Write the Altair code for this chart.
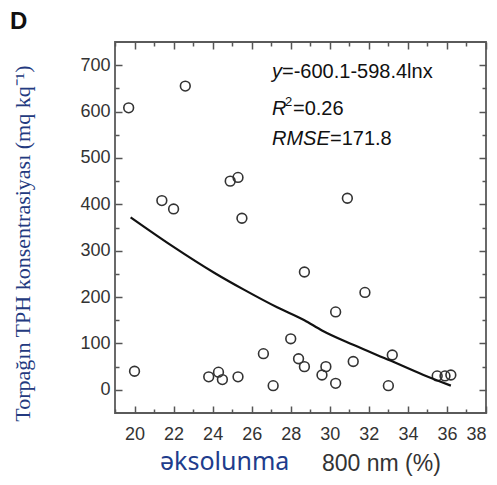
import altair as alt
import pandas as pd

# ---- data ----
x_vals = [19.7, 20.0, 21.4, 22.0, 22.6, 23.8, 24.3, 24.5, 24.9, 25.3, 25.3, 25.5,
          26.6, 27.1, 28.0, 28.4, 28.7, 28.7, 29.6, 29.8, 30.3, 30.3, 30.9, 31.2,
          31.8, 33.0, 33.2, 35.5, 35.9, 36.2]
y_vals = [608, 40, 408, 390, 655, 28, 38, 22, 450, 458, 28, 370,
          78, 9, 110, 67, 50, 254, 32, 50, 168, 14, 413, 61,
          210, 9, 75, 30, 30, 32]

curve_x = [19.8, 21.9, 24.1, 25.6, 27.3, 28.7, 29.6, 31.2, 33.1, 34.8, 36.2]
curve_y = [372, 311, 252, 216, 178, 150, 128, 97, 63, 32, 9]

x_major = [20, 22, 24, 26, 28, 30, 32, 34, 36, 38]
x_minor = [19, 21, 23, 25, 27, 29, 31, 33, 35, 37]
y_major = [0, 100, 200, 300, 400, 500, 600, 700]
y_minor = [50, 150, 250, 350, 450, 550, 650]
x_domain = [19, 38]
y_domain = [-50, 750]

panel_label = ["D"]
y_title = "Torpağın TPH konsentrasiyası (mq kq⁻¹)"
x_title_a = ["əksolunma"]
x_title_b = ["800 nm (%)"]
eq_italic = ["y"]
eq_rest = ["=-600.1-598.4lnx"]
r2_italic = ["R"]
r2_sup = ["2"]
r2_rest = ["=0.26"]
rmse_italic = ["RMSE"]
rmse_rest = ["=171.8"]

W = 371
H = 371
TICK = "#555555"
LABEL = "#333333"

pts = pd.DataFrame({"x": x_vals, "y": y_vals})
crv = pd.DataFrame({"x": curve_x, "y": curve_y})

xs = alt.Scale(domain=x_domain, nice=False, zero=False)
ys = alt.Scale(domain=y_domain, nice=False, zero=False)


def tick_axis(orient, values, size, off):
    return alt.Axis(orient=orient, offset=off, values=values, tickSize=size,
                    tickWidth=1.5, tickColor=TICK, labels=False, domain=False,
                    grid=False, title="")


main_x = alt.Axis(orient="bottom", values=x_major, ticks=False, tickSize=0,
                  domain=False, grid=False, labelFont="Liberation Sans",
                  labelFontSize=18, labelColor=LABEL, labelPadding=12, title="")
main_y = alt.Axis(orient="left", values=y_major, ticks=False, tickSize=0,
                  domain=False, grid=False, labelFont="Liberation Sans",
                  labelFontSize=18, labelColor=LABEL, labelPadding=5,
                  title=y_title, titleFont="Liberation Serif", titleFontSize=22,
                  titleFontWeight="normal", titleColor="#233a80",
                  titleX=-93, titleY=201, titleAngle=270, titleAlign="center",
                  titleBaseline="middle")

points = alt.Chart(pts).mark_point(shape="circle", filled=False, size=95,
                                   stroke="#333333", strokeWidth=1.6,
                                   opacity=1).encode(
    x=alt.X("x:Q", scale=xs, axis=main_x),
    y=alt.Y("y:Q", scale=ys, axis=main_y),
)

curve = alt.Chart(crv).mark_line(color="#111111", strokeWidth=2.2,
                                 interpolate="monotone").encode(
    x=alt.X("x:Q", scale=xs, axis=tick_axis("top", x_major, 7, -H)),
    y=alt.Y("y:Q", scale=ys, axis=tick_axis("right", y_major, 7, -W)),
)

ticks_major2 = alt.Chart(pts).mark_point(opacity=0).encode(
    x=alt.X("x:Q", scale=xs, axis=tick_axis("bottom", x_major, 7, -H)),
    y=alt.Y("y:Q", scale=ys, axis=tick_axis("left", y_major, 7, -W)),
)
ticks_minor1 = alt.Chart(pts).mark_point(opacity=0).encode(
    x=alt.X("x:Q", scale=xs, axis=tick_axis("top", x_minor, 4, -H)),
    y=alt.Y("y:Q", scale=ys, axis=tick_axis("right", y_minor, 4, -W)),
)
ticks_minor2 = alt.Chart(pts).mark_point(opacity=0).encode(
    x=alt.X("x:Q", scale=xs, axis=tick_axis("bottom", x_minor, 4, -H)),
    y=alt.Y("y:Q", scale=ys, axis=tick_axis("left", y_minor, 4, -W)),
)


def label(txt, x, y, size, font="Liberation Sans", color="#111111",
          style="normal", weight="normal", baseline="alphabetic"):
    return alt.Chart(pd.DataFrame({"t": txt})).mark_text(
        align="left", baseline=baseline, font=font, fontSize=size,
        fontStyle=style, fontWeight=weight, color=color,
    ).encode(x=alt.value(x), y=alt.value(y), text="t:N")


texts = [
    label(panel_label, -105, -32, 24, weight="bold", baseline="top"),
    label(eq_italic, 157, 36, 20, style="italic"),
    label(eq_rest, 167, 36, 20),
    label(r2_italic, 157, 73, 20, style="italic"),
    label(r2_sup, 170, 64, 13),
    label(r2_rest, 178, 73, 20),
    label(rmse_italic, 157, 103, 20, style="italic"),
    label(rmse_rest, 215, 103, 20),
    label(x_title_a, 45, 428, 25, font="Noto Sans", color="#203c8c"),
    label(x_title_b, 207, 429, 23, color="#333333"),
]

chart = alt.layer(points, curve, ticks_major2, ticks_minor1, ticks_minor2, *texts).resolve_axis(
    x="independent", y="independent"
).properties(
    width=W, height=H,
    padding={"left": 107, "top": 34, "right": 3, "bottom": 64},
    autosize=alt.AutoSizeParams(type="none"),
).configure_view(stroke="#5a5a5a", strokeWidth=1.8)

chart.save("out.html", embed_options={"renderer": "svg", "actions": False})
